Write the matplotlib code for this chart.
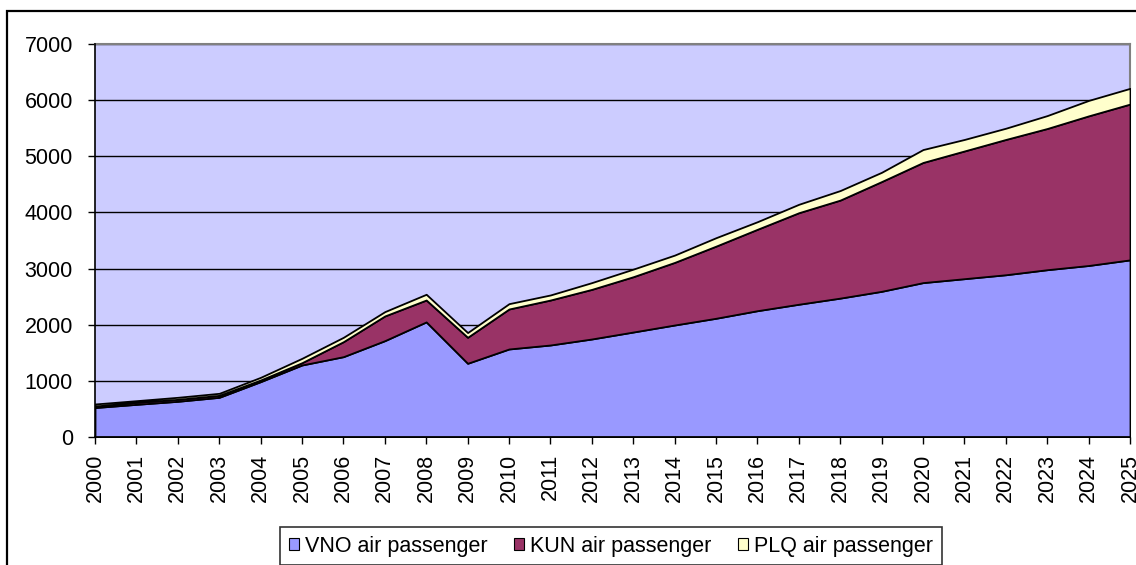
import numpy as np
import matplotlib
matplotlib.use('Agg')
import matplotlib.pyplot as plt
from matplotlib.patches import Rectangle, Patch

plt.rcParams['font.family'] = ['Liberation Sans', 'DejaVu Sans']

years = list(range(2000, 2026))
# passengers per airport (stacked: VNO bottom, KUN middle, PLQ top)
vno = [525, 582, 636, 707, 986, 1283, 1431, 1716, 2050, 1313, 1568, 1639, 1746,
       1870, 1995, 2115, 2250, 2365, 2474, 2595, 2750, 2820, 2890, 2980, 3055, 3155]
kun = [27, 36, 35, 35, 30, 41, 267, 440, 390, 463, 712, 801, 884,
       985, 1115, 1285, 1450, 1630, 1746, 1955, 2140, 2275, 2410, 2515, 2665, 2775]
plq = [36, 29, 36, 36, 47, 78, 78, 77, 102, 84, 95, 90, 120,
       135, 130, 150, 135, 150, 170, 165, 230, 205, 200, 230, 275, 280]
labels = ['VNO air passenger', 'KUN air passenger', 'PLQ air passenger']
colors = ['#9999FF', '#993366', '#FFFFCC']

W, H = 1136, 565
fig = plt.figure(figsize=(W / 100, H / 100), dpi=100)
fig.patch.set_facecolor('white')

# outer chart border
fig.patches.append(Rectangle((7 / W, -0.05), 1.1, 1 - 11 / H + 0.05,
                             transform=fig.transFigure, fill=False,
                             edgecolor='black', linewidth=1.6, zorder=0))

ax = fig.add_axes([95 / W, 1 - 437 / H, (1130 - 95) / W, (437 - 44) / H])
ax.set_facecolor('#CCCCFF')

ax.stackplot(years, vno, kun, plq, colors=colors, edgecolor='black',
             linewidth=1.3, zorder=3)

ax.set_xlim(2000, 2025)
ax.set_ylim(0, 7000)
ax.set_xticks(years)
ax.set_xticklabels([str(y) for y in years], rotation=90)
ax.set_yticks(range(0, 7001, 1000))
ax.yaxis.grid(True, color='black', linewidth=1.0, zorder=1)
ax.set_axisbelow(True)

ax.tick_params(axis='both', labelsize=15.5, length=5, width=1.0, color='black')
ax.tick_params(axis='y', pad=11)
ax.tick_params(axis='x', pad=7)

for s in ['top', 'right']:
    ax.spines[s].set_color('#808080')
    ax.spines[s].set_linewidth(1.5)
for s in ['left', 'bottom']:
    ax.spines[s].set_color('black')
    ax.spines[s].set_linewidth(1.2)
    ax.spines[s].set_zorder(5)

handles = [Patch(facecolor=c, edgecolor='black', linewidth=0.8) for c in colors]
leg = fig.legend(handles, labels, loc='upper center', ncol=3,
                 bbox_to_anchor=(611 / W, 1 - 527 / H), fontsize=15.5,
                 frameon=True, fancybox=False, edgecolor='black',
                 handlelength=0.47, handleheight=0.47, handletextpad=0.3,
                 columnspacing=1.2, borderpad=0.4, borderaxespad=0)
leg.get_frame().set_linewidth(1.2)

fig.savefig('out.png', dpi=100)
